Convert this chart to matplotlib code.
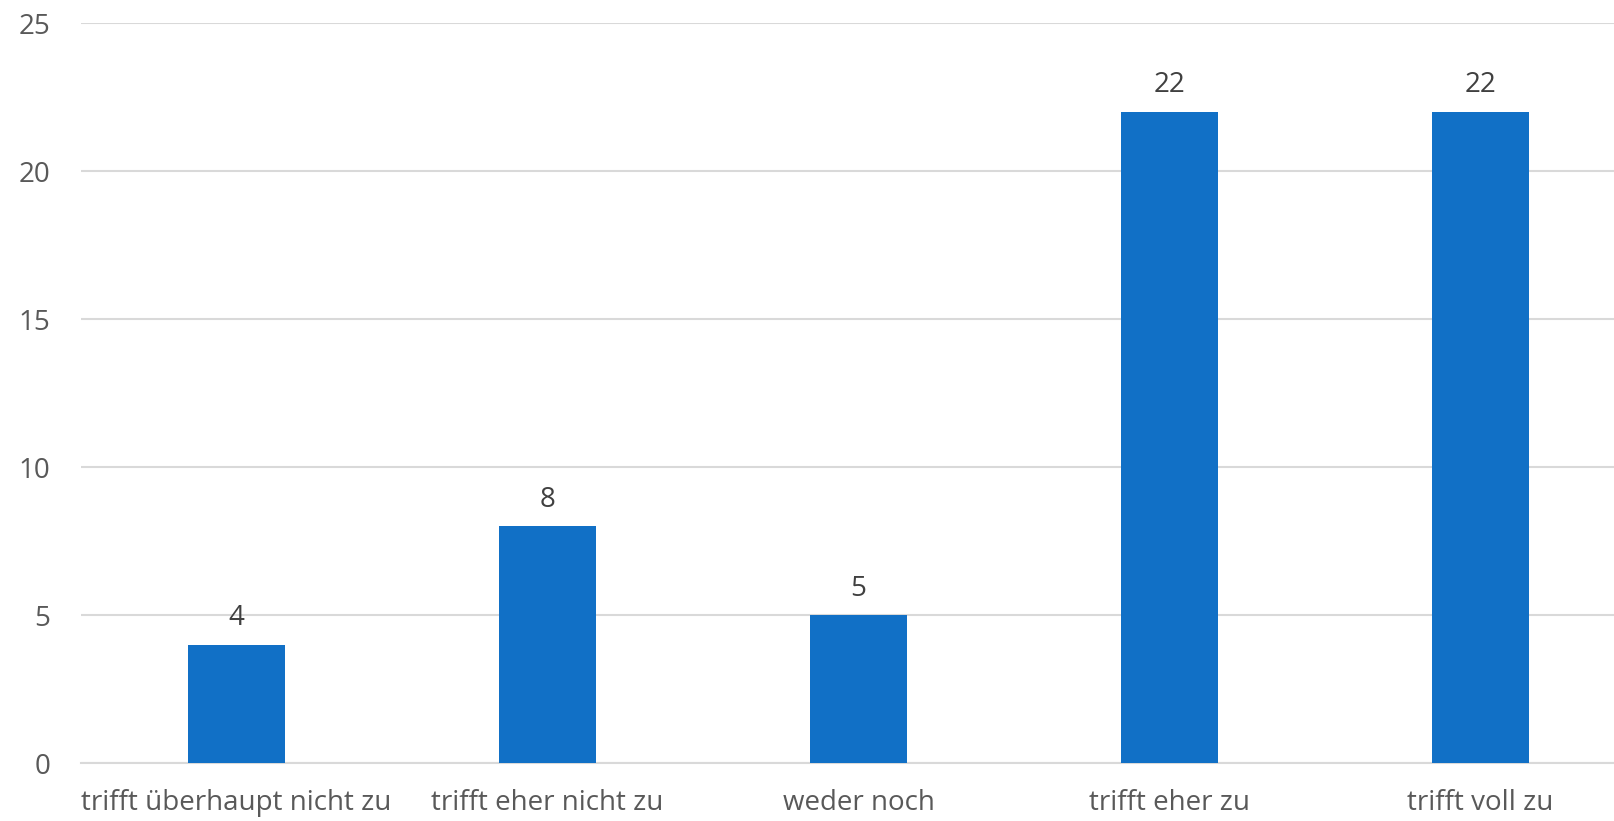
import matplotlib.pyplot as plt
import numpy as np

plt.rcParams['font.family'] = ['Open Sans', 'DejaVu Sans']

categories = ["trifft überhaupt nicht zu", "trifft eher nicht zu", "weder noch",
              "trifft eher zu", "trifft voll zu"]
values = [4, 8, 5, 22, 22]
yticks = [0, 5, 10, 15, 20, 25]

text_col = "#595959"

fig = plt.figure(figsize=(16.14, 8.21), dpi=100)
# plot area runs a little past the right edge, as in the original export
ax = fig.add_axes([81 / 1614, 1 - 763 / 821, 1555 / 1614, (763 - 23) / 821])

x = np.arange(len(categories))
bars = ax.bar(x, values, width=0.315, color="#1170C6", zorder=3)

ax.set_xlim(-0.5, len(categories) - 0.5)
ax.set_ylim(0, 25)
ax.set_yticks(yticks)
ax.set_xticks(x)
ax.set_xticklabels(categories)

ax.grid(axis="y", color="#D9D9D9", linewidth=1.5, zorder=0)
for s in ["top", "right", "left"]:
    ax.spines[s].set_visible(False)
ax.spines["bottom"].set_color("#D9D9D9")
ax.spines["bottom"].set_linewidth(1.5)

ax.tick_params(axis="y", length=0, pad=22, labelsize=20, labelcolor=text_col)
ax.tick_params(axis="x", length=0, pad=19, labelsize=20, labelcolor=text_col)

for b, v in zip(bars, values):
    ax.annotate(str(v), (b.get_x() + b.get_width() / 2, v), xytext=(0, 9),
                textcoords="offset points", ha="center", va="bottom",
                fontsize=20, color="#404040")

plt.savefig("out.png", dpi=100)
